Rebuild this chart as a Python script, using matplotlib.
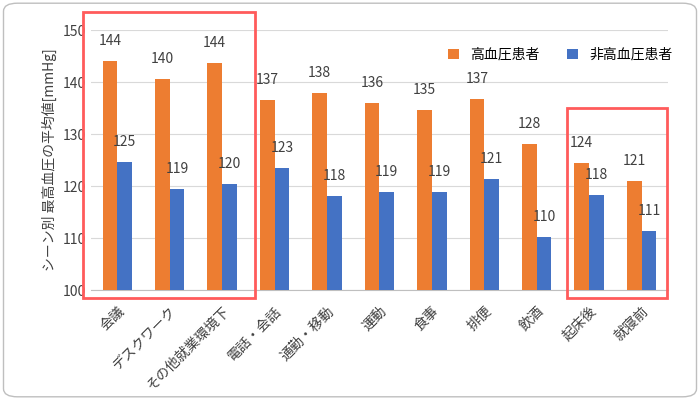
import matplotlib
matplotlib.use("Agg")
import matplotlib.pyplot as plt
from matplotlib.patches import Rectangle, FancyBboxPatch
import numpy as np

plt.rcParams['font.family'] = ['Noto Sans CJK JP']

categories = ["会議", "デスクワーク", "その他就業環境下", "電話・会話", "通勤・移動", "運動", "食事", "排便", "飲酒", "起床後", "就寝前"]
hyper = [144.0, 140.5, 143.7, 136.5, 137.8, 136.0, 134.7, 136.7, 128.0, 124.4, 120.9]
normal = [124.7, 119.5, 120.4, 123.5, 118.0, 118.8, 118.8, 121.3, 110.2, 118.2, 111.4]
hyper_labels = [144, 140, 144, 137, 138, 136, 135, 137, 128, 124, 121]
normal_labels = [125, 119, 120, 123, 118, 119, 119, 121, 110, 118, 111]

fig = plt.figure(figsize=(7, 4), dpi=100)
ax = fig.add_axes([0.13, 0.275, 0.824, 0.65])
x = np.arange(len(categories))
w = 0.28
ax.bar(x - w/2, hyper, w, color="#ED7D31", label="高血圧患者", zorder=3)
ax.bar(x + w/2, normal, w, color="#4472C4", label="非高血圧患者", zorder=3)
for i in range(len(x)):
    ax.text(x[i] - w/2, hyper[i] + 2.5, str(hyper_labels[i]), ha="center", va="bottom", fontsize=10, color="#404040")
    ax.text(x[i] + w/2, normal[i] + 2.5, str(normal_labels[i]), ha="center", va="bottom", fontsize=10, color="#404040")
ax.set_ylim(100, 150)
ax.set_xlim(-0.5, len(x) - 0.5)
ax.set_yticks(range(100, 151, 10))
ax.yaxis.grid(True, color="#D9D9D9", zorder=0)
for s in ["top", "right", "left"]:
    ax.spines[s].set_visible(False)
ax.spines["bottom"].set_color("#BFBFBF")
ax.tick_params(axis="both", length=0, labelsize=10, colors="#404040")
ax.tick_params(axis="x", pad=10)
ax.set_xticks(x)
ax.set_xticklabels(categories, rotation=45, ha="right", rotation_mode="anchor")
ax.set_ylabel("シーン別 最高血圧の平均値[mmHg]", fontsize=10, color="#404040")
ax.legend(loc="upper right", frameon=False, fontsize=10, handlelength=0.8, handleheight=0.8, ncol=2, bbox_to_anchor=(1.03, 0.98))

def rect(x0, y0, x1, y1):
    fig.patches.append(Rectangle((x0/700, 1 - y1/400), (x1-x0)/700, (y1-y0)/400,
                                 transform=fig.transFigure, fill=False, edgecolor="#FF5B5B", linewidth=2))
rect(83, 12, 255, 298)
rect(567, 108, 667, 298)
fig.patches.append(FancyBboxPatch((0.005, 0.008), 0.99, 0.984, boxstyle="round,pad=0,rounding_size=0.02",
                                  transform=fig.transFigure, fill=False, edgecolor="#BFBFBF", linewidth=1))
fig.savefig("out.png", dpi=100)
